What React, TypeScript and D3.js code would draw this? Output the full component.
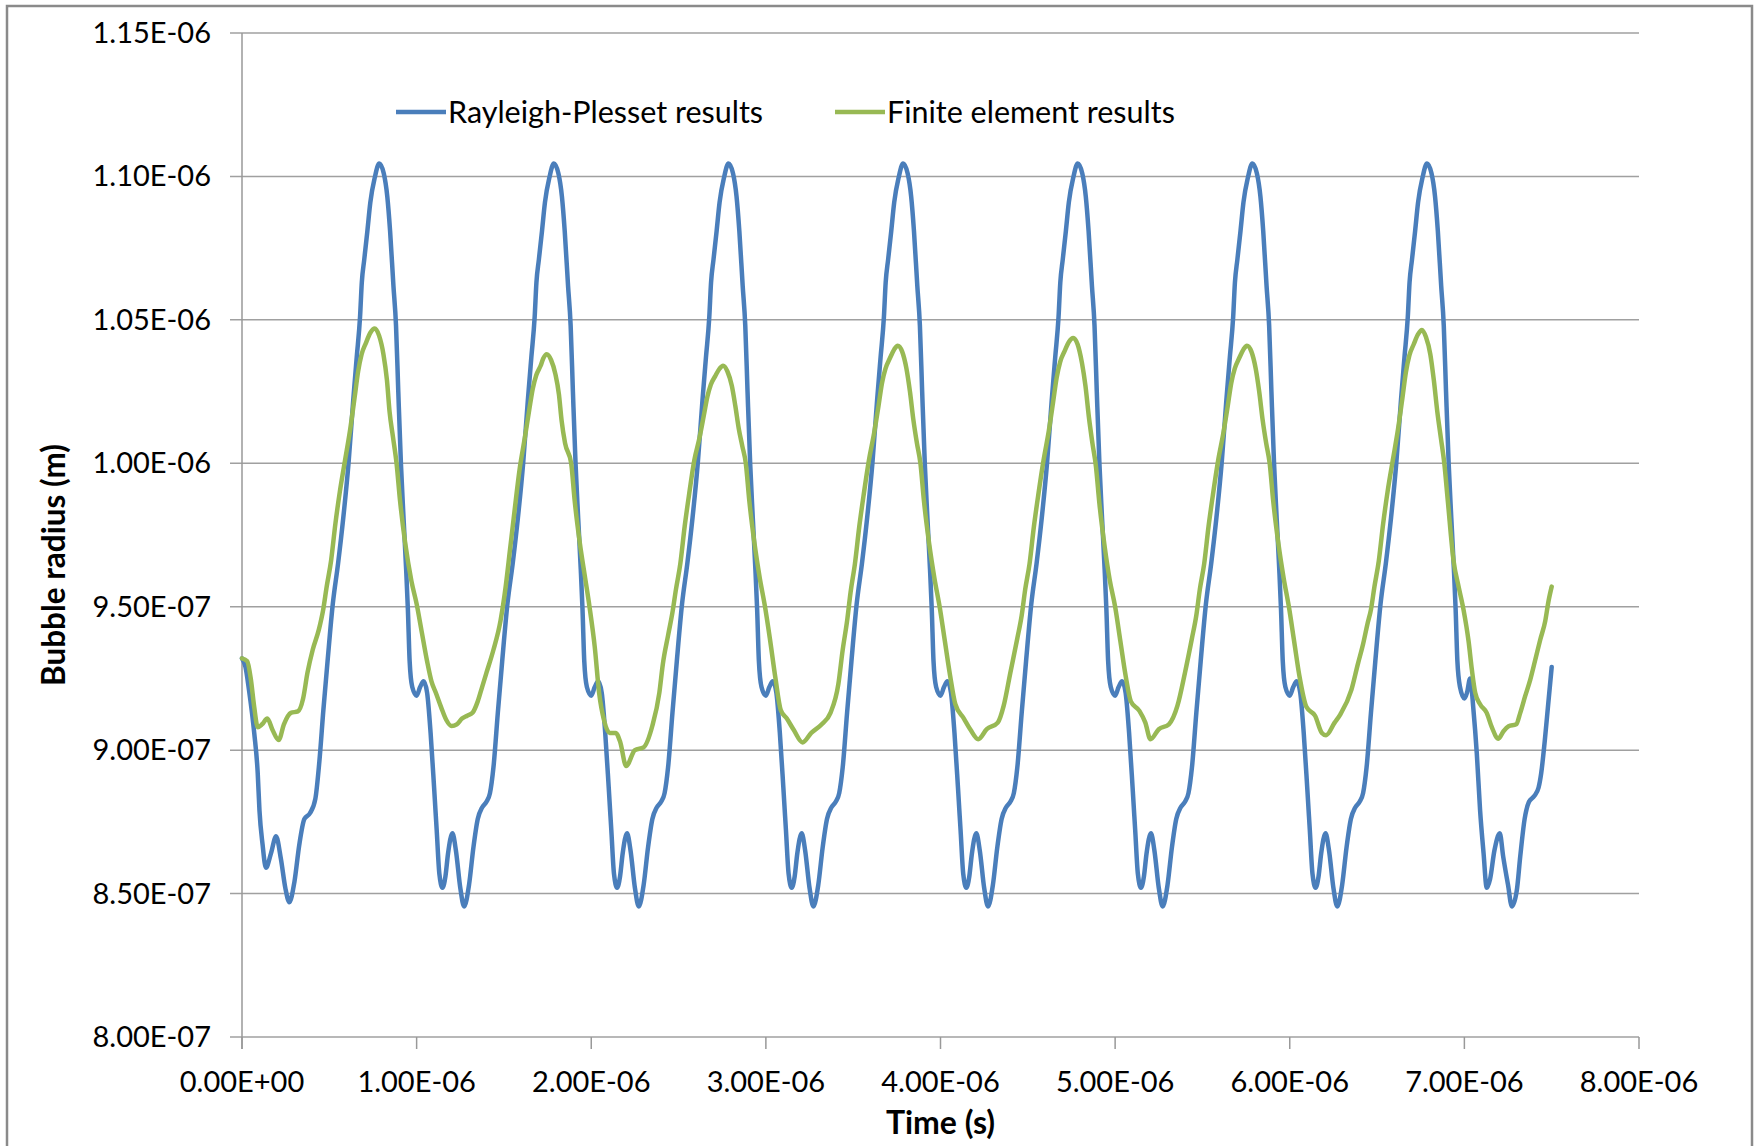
import React, { useEffect, useRef } from 'react';
import * as d3 from 'd3';

// [time (µs), bubble radius (nm)]
const rayleighPlesset: [number, number][] = [
  [0, 932], [0.02, 929], [0.04, 921], [0.07, 906], [0.09, 892], [0.1, 879], [0.118, 867], [0.137, 859], [0.166, 864], [0.195, 870],
  [0.223, 862], [0.248, 852], [0.271, 847], [0.3, 854], [0.328, 867], [0.357, 876], [0.389, 878], [0.42, 883], [0.443, 896], [0.466, 914],
  [0.49, 931], [0.52, 951], [0.55, 965], [0.58, 981], [0.61, 1000], [0.637, 1022], [0.657, 1037], [0.676, 1051], [0.686, 1063], [0.7, 1071],
  [0.718, 1081], [0.735, 1091], [0.76, 1099.5], [0.786, 1104.5], [0.812, 1101], [0.832, 1093], [0.848, 1081], [0.867, 1062], [0.882, 1048], [0.895, 1025],
  [0.91, 1000], [0.925, 981], [0.94, 963], [0.95, 949], [0.96, 931], [0.975, 922],

  [1.0, 919], [1.02, 922], [1.04, 924], [1.06, 920], [1.08, 906], [1.1, 887], [1.115, 872], [1.13, 857], [1.148, 852], [1.165, 856],
  [1.18, 864], [1.205, 871], [1.225, 865], [1.25, 852], [1.272, 845.5], [1.3, 853], [1.325, 866], [1.35, 876], [1.375, 880], [1.4, 882],
  [1.42, 885], [1.44, 894], [1.465, 913], [1.49, 931], [1.52, 951], [1.55, 965], [1.58, 981], [1.61, 1000], [1.637, 1022], [1.657, 1037],
  [1.676, 1051], [1.686, 1063], [1.7, 1071], [1.718, 1081], [1.735, 1091], [1.76, 1099.5], [1.786, 1104.5], [1.812, 1101], [1.832, 1093], [1.848, 1081],
  [1.867, 1062], [1.882, 1048], [1.895, 1025], [1.91, 1000], [1.925, 981], [1.94, 963], [1.95, 949], [1.96, 931], [1.975, 922],

  [2.0, 919], [2.02, 922], [2.04, 924], [2.06, 920], [2.08, 906], [2.1, 887], [2.115, 872], [2.13, 857], [2.148, 852], [2.165, 856],
  [2.18, 864], [2.205, 871], [2.225, 865], [2.25, 852], [2.272, 845.5], [2.3, 853], [2.325, 866], [2.35, 876], [2.375, 880], [2.4, 882],
  [2.42, 885], [2.44, 894], [2.465, 913], [2.49, 931], [2.52, 951], [2.55, 965], [2.58, 981], [2.61, 1000], [2.637, 1022], [2.657, 1037],
  [2.676, 1051], [2.686, 1063], [2.7, 1071], [2.718, 1081], [2.735, 1091], [2.76, 1099.5], [2.786, 1104.5], [2.812, 1101], [2.832, 1093], [2.848, 1081],
  [2.867, 1062], [2.882, 1048], [2.895, 1025], [2.91, 1000], [2.925, 981], [2.94, 963], [2.95, 949], [2.96, 931], [2.975, 922],

  [3.0, 919], [3.02, 922], [3.04, 924], [3.06, 920], [3.08, 906], [3.1, 887], [3.115, 872], [3.13, 857], [3.148, 852], [3.165, 856],
  [3.18, 864], [3.205, 871], [3.225, 865], [3.25, 852], [3.272, 845.5], [3.3, 853], [3.325, 866], [3.35, 876], [3.375, 880], [3.4, 882],
  [3.42, 885], [3.44, 894], [3.465, 913], [3.49, 931], [3.52, 951], [3.55, 965], [3.58, 981], [3.61, 1000], [3.637, 1022], [3.657, 1037],
  [3.676, 1051], [3.686, 1063], [3.7, 1071], [3.718, 1081], [3.735, 1091], [3.76, 1099.5], [3.786, 1104.5], [3.812, 1101], [3.832, 1093], [3.848, 1081],
  [3.867, 1062], [3.882, 1048], [3.895, 1025], [3.91, 1000], [3.925, 981], [3.94, 963], [3.95, 949], [3.96, 931], [3.975, 922],

  [4.0, 919], [4.02, 922], [4.04, 924], [4.06, 920], [4.08, 906], [4.1, 887], [4.115, 872], [4.13, 857], [4.148, 852], [4.165, 856],
  [4.18, 864], [4.205, 871], [4.225, 865], [4.25, 852], [4.272, 845.5], [4.3, 853], [4.325, 866], [4.35, 876], [4.375, 880], [4.4, 882],
  [4.42, 885], [4.44, 894], [4.465, 913], [4.49, 931], [4.52, 951], [4.55, 965], [4.58, 981], [4.61, 1000], [4.637, 1022], [4.657, 1037],
  [4.676, 1051], [4.686, 1063], [4.7, 1071], [4.718, 1081], [4.735, 1091], [4.76, 1099.5], [4.786, 1104.5], [4.812, 1101], [4.832, 1093], [4.848, 1081],
  [4.867, 1062], [4.882, 1048], [4.895, 1025], [4.91, 1000], [4.925, 981], [4.94, 963], [4.95, 949], [4.96, 931], [4.975, 922],

  [5.0, 919], [5.02, 922], [5.04, 924], [5.06, 920], [5.08, 906], [5.1, 887], [5.115, 872], [5.13, 857], [5.148, 852], [5.165, 856],
  [5.18, 864], [5.205, 871], [5.225, 865], [5.25, 852], [5.272, 845.5], [5.3, 853], [5.325, 866], [5.35, 876], [5.375, 880], [5.4, 882],
  [5.42, 885], [5.44, 894], [5.465, 913], [5.49, 931], [5.52, 951], [5.55, 965], [5.58, 981], [5.61, 1000], [5.637, 1022], [5.657, 1037],
  [5.676, 1051], [5.686, 1063], [5.7, 1071], [5.718, 1081], [5.735, 1091], [5.76, 1099.5], [5.786, 1104.5], [5.812, 1101], [5.832, 1093], [5.848, 1081],
  [5.867, 1062], [5.882, 1048], [5.895, 1025], [5.91, 1000], [5.925, 981], [5.94, 963], [5.95, 949], [5.96, 931], [5.975, 922],

  [6.0, 919], [6.02, 922], [6.04, 924], [6.06, 920], [6.08, 906], [6.1, 887], [6.115, 872], [6.13, 857], [6.148, 852], [6.165, 856],
  [6.18, 864], [6.205, 871], [6.225, 865], [6.25, 852], [6.272, 845.5], [6.3, 853], [6.325, 866], [6.35, 876], [6.375, 880], [6.4, 882],
  [6.42, 885], [6.44, 894], [6.465, 913], [6.49, 931], [6.52, 951], [6.55, 965], [6.58, 981], [6.61, 1000], [6.637, 1022], [6.657, 1037],
  [6.676, 1051], [6.686, 1063], [6.7, 1071], [6.718, 1081], [6.735, 1091], [6.76, 1099.5], [6.786, 1104.5], [6.812, 1101], [6.832, 1093], [6.848, 1081],
  [6.867, 1062], [6.882, 1048], [6.895, 1025], [6.91, 1000], [6.925, 981], [6.94, 963], [6.95, 949], [6.96, 931], [6.975, 922],

  [7.0, 918], [7.015, 920], [7.033, 925], [7.052, 914], [7.071, 899], [7.09, 879], [7.11, 864], [7.128, 852], [7.147, 855], [7.172, 865],
  [7.203, 871], [7.222, 863], [7.25, 853], [7.272, 845.5], [7.3, 851], [7.32, 863], [7.345, 876], [7.37, 882], [7.4, 884], [7.425, 887],
  [7.44, 892], [7.46, 903], [7.48, 916], [7.5, 929],
];

const finiteElement: [number, number][] = [
  [0, 932], [0.03, 931], [0.05, 925], [0.07, 915], [0.09, 908], [0.115, 909], [0.145, 911], [0.175, 907], [0.21, 903.5], [0.24, 909],
  [0.28, 913], [0.32, 913.5], [0.35, 918], [0.375, 927], [0.405, 935], [0.44, 942], [0.465, 949], [0.485, 957], [0.51, 966], [0.535, 979],
  [0.56, 990], [0.59, 1001], [0.62, 1012], [0.645, 1023], [0.665, 1032], [0.685, 1038], [0.71, 1042], [0.735, 1045.5], [0.76, 1047], [0.785, 1044.5],
  [0.81, 1038], [0.83, 1029], [0.845, 1018], [0.865, 1009], [0.885, 1000], [0.905, 987], [0.935, 972], [0.97, 959], [1.0, 951], [1.03, 941],
  [1.06, 931], [1.085, 924], [1.11, 920], [1.14, 915], [1.17, 910.5], [1.2, 908.4], [1.23, 909], [1.26, 911], [1.29, 912], [1.32, 913],

  [1.35, 917], [1.375, 922], [1.4, 927], [1.44, 935], [1.48, 945], [1.51, 957], [1.535, 970], [1.56, 983], [1.59, 998], [1.62, 1009],
  [1.645, 1018.7], [1.665, 1026], [1.685, 1030.7], [1.71, 1034], [1.725, 1036.5], [1.745, 1038], [1.77, 1036], [1.795, 1031], [1.815, 1024], [1.83, 1015],
  [1.85, 1007], [1.885, 1000], [1.905, 987], [1.935, 972], [1.965, 960], [1.99, 950], [2.02, 936], [2.045, 920], [2.075, 910], [2.105, 906],
  [2.14, 906], [2.165, 903], [2.2, 894.5], [2.25, 900], [2.3, 901], [2.35, 908.5], [2.39, 920],

  [2.41, 930], [2.44, 940], [2.465, 948], [2.485, 956], [2.51, 965], [2.535, 978], [2.56, 989], [2.59, 1001], [2.62, 1008.9], [2.645, 1016.8],
  [2.665, 1023.2], [2.685, 1027.5], [2.71, 1030.4], [2.735, 1033], [2.755, 1034], [2.78, 1032], [2.805, 1027], [2.825, 1020], [2.845, 1012], [2.865, 1006],
  [2.885, 1000], [2.905, 987], [2.935, 972], [2.965, 960], [2.995, 950], [3.025, 938], [3.055, 925], [3.085, 914], [3.12, 911], [3.16, 907],
  [3.21, 902.7], [3.26, 906], [3.32, 909], [3.37, 913], [3.415, 923],

  [3.44, 935], [3.465, 945], [3.485, 955], [3.51, 965], [3.535, 978], [3.56, 989], [3.59, 1001], [3.62, 1010.6], [3.645, 1020], [3.665, 1028],
  [3.685, 1033], [3.71, 1036.6], [3.735, 1039.7], [3.755, 1041], [3.78, 1039], [3.805, 1033], [3.825, 1025], [3.845, 1015], [3.865, 1007], [3.885, 1000],
  [3.905, 987], [3.935, 972], [3.965, 960], [3.995, 950], [4.025, 938], [4.055, 926], [4.085, 916], [4.134, 911], [4.173, 907], [4.216, 903.8],
  [4.265, 907.3], [4.328, 909.6], [4.362, 915.5],

  [4.4, 927], [4.44, 939], [4.465, 947], [4.485, 956], [4.51, 965], [4.535, 978], [4.56, 989], [4.59, 1001], [4.62, 1011.2], [4.645, 1021.4],
  [4.665, 1029.8], [4.685, 1035.3], [4.71, 1039], [4.735, 1042.3], [4.76, 1043.7], [4.785, 1041.5], [4.81, 1035], [4.83, 1027], [4.85, 1016], [4.87, 1007],
  [4.89, 999], [4.91, 986], [4.94, 971], [4.97, 959], [5.0, 950], [5.03, 938], [5.06, 926], [5.09, 917], [5.139, 913.7], [5.173, 909.6],
  [5.202, 903.8], [5.25, 907.3], [5.308, 909], [5.357, 915.5],

  [5.4, 927], [5.44, 939], [5.465, 947], [5.485, 956], [5.51, 965], [5.535, 978], [5.56, 989], [5.59, 1001], [5.62, 1010.6], [5.645, 1020],
  [5.665, 1028], [5.685, 1033], [5.71, 1036.6], [5.735, 1039.7], [5.755, 1041], [5.78, 1039], [5.805, 1033], [5.825, 1025], [5.845, 1015], [5.865, 1007],
  [5.885, 1000], [5.905, 987], [5.935, 972], [5.965, 960], [5.995, 950], [6.025, 938], [6.055, 926], [6.096, 915], [6.145, 912], [6.184, 906],
  [6.208, 905.2], [6.257, 909.6], [6.29, 912.5], [6.353, 921],

  [6.39, 930], [6.42, 937], [6.445, 944], [6.465, 949], [6.485, 957], [6.51, 966], [6.535, 979], [6.56, 990], [6.59, 1001], [6.62, 1011.9],
  [6.645, 1022.7], [6.665, 1031.7], [6.685, 1037.6], [6.71, 1041.5], [6.735, 1045], [6.757, 1046.5], [6.78, 1044], [6.805, 1038], [6.825, 1029], [6.845, 1018],
  [6.865, 1009], [6.885, 1000], [6.905, 987], [6.938, 966], [6.967, 957], [6.995, 949], [7.024, 938], [7.043, 928], [7.062, 920], [7.09, 916],
  [7.128, 913], [7.157, 908], [7.195, 904], [7.224, 906.6], [7.253, 908.3], [7.297, 909], [7.32, 913], [7.348, 918.8], [7.377, 924.5], [7.406, 931.5],
  [7.434, 938.4], [7.463, 945], [7.482, 952], [7.5, 957],
];

const xTicks = [0, 1e-6, 2e-6, 3e-6, 4e-6, 5e-6, 6e-6, 7e-6, 8e-6];
const yTicks = [8.0e-7, 8.5e-7, 9.0e-7, 9.5e-7, 1.0e-6, 1.05e-6, 1.1e-6, 1.15e-6];
const seriesNames = ['Rayleigh-Plesset results', 'Finite element results'];
const seriesColors = ['#4a7ebb', '#98b954'];

const sci = (v: number) => {
  const [m, e] = v.toExponential(2).split('e');
  const n = Math.abs(+e);
  return `${m}E${+e < 0 ? '-' : '+'}${n < 10 ? '0' + n : n}`;
};

const W = 1758, H = 1146;
const font = 'Lato, "Open Sans", sans-serif';

const BubbleChart = () => {
  const ref = useRef<SVGSVGElement>(null);

  useEffect(() => {
    const svg = d3.select(ref.current);
    svg.selectAll('*').remove();

    const margin = { top: 33, right: 119, bottom: 109, left: 242 };
    const x = d3.scaleLinear().domain([0, 8e-6]).range([margin.left, W - margin.right]);
    const y = d3.scaleLinear().domain([8e-7, 1.15e-6]).range([H - margin.bottom, margin.top]);

    svg.append('rect')
      .attr('x', 7).attr('y', 6).attr('width', W - 13).attr('height', H + 10)
      .attr('fill', '#fff').attr('stroke', '#8a8a8a').attr('stroke-width', 2.5);

    // horizontal gridlines (incl. the y tick marks)
    svg.append('g').selectAll('line').data(yTicks).enter().append('line')
      .attr('x1', margin.left - 12).attr('x2', W - margin.right)
      .attr('y1', d => y(d)).attr('y2', d => y(d))
      .attr('stroke', '#a0a0a0').attr('stroke-width', 1.5);

    // y axis line
    svg.append('line')
      .attr('x1', x(0)).attr('x2', x(0))
      .attr('y1', y(1.15e-6)).attr('y2', y(8e-7) + 12)
      .attr('stroke', '#999').attr('stroke-width', 1.5);

    // x tick marks
    svg.append('g').selectAll('line').data(xTicks).enter().append('line')
      .attr('x1', d => x(d)).attr('x2', d => x(d))
      .attr('y1', y(8e-7)).attr('y2', y(8e-7) + 12)
      .attr('stroke', '#999').attr('stroke-width', 1.5);

    svg.append('g').selectAll('text').data(yTicks).enter().append('text')
      .attr('x', margin.left - 31).attr('y', d => y(d) + 10)
      .attr('text-anchor', 'end')
      .style('font-family', font).style('font-size', '29px').style('fill', '#000')
      .text(d => sci(d));

    svg.append('g').selectAll('text').data(xTicks).enter().append('text')
      .attr('x', d => x(d)).attr('y', y(8e-7) + 55)
      .attr('text-anchor', 'middle')
      .style('font-family', font).style('font-size', '29px').style('fill', '#000')
      .text(d => sci(d));

    const line = d3.line<[number, number]>()
      .x(d => x(d[0] * 1e-6))
      .y(d => y(d[1] * 1e-9))
      .curve(d3.curveMonotoneX);

    [rayleighPlesset, finiteElement].forEach((data, i) => {
      svg.append('path')
        .datum(data)
        .attr('d', line)
        .attr('fill', 'none')
        .attr('stroke', seriesColors[i])
        .attr('stroke-width', 4.5)
        .attr('stroke-linejoin', 'round')
        .attr('stroke-linecap', 'round');
    });

    // legend
    const legendX = [396, 835];
    seriesNames.forEach((name, i) => {
      const g = svg.append('g').attr('transform', `translate(${legendX[i]}, 112)`);
      g.append('line').attr('x1', 0).attr('x2', 50).attr('y1', 0).attr('y2', 0)
        .attr('stroke', seriesColors[i]).attr('stroke-width', 4.5);
      g.append('text').attr('x', 52).attr('y', 10.5)
        .style('font-family', font).style('font-size', '30.5px').style('fill', '#000')
        .text(name);
    });

    svg.append('text')
      .attr('x', (x(0) + x(8e-6)) / 2).attr('y', 1134)
      .attr('text-anchor', 'middle')
      .style('font-family', font).style('font-size', '32px').style('font-weight', '700')
      .text('Time (s)');

    svg.append('text')
      .attr('transform', 'translate(65, 565) rotate(-90)')
      .attr('text-anchor', 'middle')
      .style('font-family', font).style('font-size', '31.5px').style('font-weight', '700')
      .text('Bubble radius (m)');
  });

  return <svg ref={ref} width={W} height={H} style={{ position: 'absolute', left: 0, top: 0 }} />;
};

export default function App() {
  return <BubbleChart />;
}
